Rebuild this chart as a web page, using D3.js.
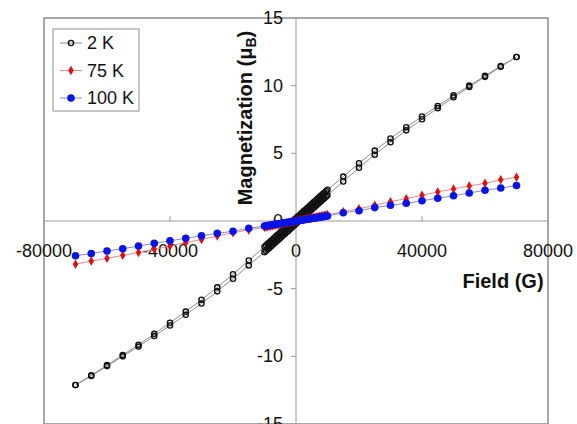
<!DOCTYPE html>
<html><head><meta charset="utf-8">
<script src="https://cdn.jsdelivr.net/npm/d3@7/dist/d3.min.js"></script>
<style>body{margin:0;background:#fff}svg{display:block}</style>
</head><body>
<script>
// Field values (G), shared by all series
const fields = [-70000,-65000,-60000,-55000,-50000,-45000,-40000,-35000,-30000,-25000,-20000,-15000,
  -10000,-9500,-9000,-8500,-8000,-7500,-7000,-6500,-6000,-5500,-5000,-4500,-4000,-3500,-3000,-2500,-2000,-1500,-1000,-500,
  0,500,1000,1500,2000,2500,3000,3500,4000,4500,5000,5500,6000,6500,7000,7500,8000,8500,9000,9500,10000,
  15000,20000,25000,30000,35000,40000,45000,50000,55000,60000,65000,70000];
// 2 K, increasing-field branch
const m2Kup = [-12.12,-11.45,-10.72,-10.0,-9.28,-8.5,-7.72,-6.93,-6.1,-5.2,-4.27,-3.28,
  -2.3,-2.2,-2.09,-1.99,-1.88,-1.78,-1.67,-1.57,-1.46,-1.36,-1.25,-1.15,-1.04,-0.94,-0.83,-0.73,-0.62,-0.52,-0.41,-0.31,
  -0.2,-0.1,0.01,0.12,0.22,0.33,0.43,0.54,0.64,0.75,0.85,0.96,1.06,1.17,1.27,1.38,1.48,1.59,1.69,1.8,1.9,
  2.92,3.93,4.9,5.82,6.7,7.52,8.34,9.14,9.9,10.65,11.4,12.12];
// 2 K, decreasing-field branch
const m2Kdown = [-12.12,-11.4,-10.65,-9.9,-9.14,-8.34,-7.52,-6.7,-5.82,-4.9,-3.93,-2.92,
  -1.9,-1.8,-1.69,-1.59,-1.48,-1.38,-1.27,-1.17,-1.06,-0.96,-0.85,-0.75,-0.64,-0.54,-0.43,-0.33,-0.22,-0.12,-0.01,0.1,
  0.2,0.31,0.41,0.52,0.62,0.73,0.83,0.94,1.04,1.15,1.25,1.36,1.46,1.57,1.67,1.78,1.88,1.99,2.09,2.2,2.3,
  3.28,4.27,5.2,6.1,6.93,7.72,8.5,9.28,10.0,10.72,11.45,12.12];
// 75 K
const m75K = [-3.19,-2.96,-2.76,-2.54,-2.32,-2.09,-1.85,-1.6,-1.36,-1.11,-0.87,-0.66,
  -0.46,-0.44,-0.41,-0.39,-0.37,-0.35,-0.32,-0.3,-0.28,-0.25,-0.23,-0.21,-0.18,-0.16,-0.14,-0.12,-0.09,-0.07,-0.05,-0.02,
  0,0.02,0.05,0.07,0.09,0.12,0.14,0.16,0.18,0.21,0.23,0.25,0.28,0.3,0.32,0.35,0.37,0.39,0.41,0.44,0.46,
  0.69,0.91,1.16,1.43,1.65,1.9,2.15,2.37,2.59,2.79,3.04,3.24];
// 100 K
const m100K = [-2.57,-2.4,-2.22,-2.05,-1.85,-1.65,-1.46,-1.28,-1.09,-0.91,-0.76,-0.54,
  -0.37,-0.35,-0.33,-0.31,-0.3,-0.28,-0.26,-0.24,-0.22,-0.2,-0.19,-0.17,-0.15,-0.13,-0.11,-0.09,-0.07,-0.06,-0.04,-0.02,
  0,0.02,0.04,0.06,0.07,0.09,0.11,0.13,0.15,0.17,0.19,0.2,0.22,0.24,0.26,0.28,0.3,0.31,0.33,0.35,0.37,
  0.61,0.76,0.99,1.16,1.31,1.5,1.68,1.87,2.07,2.27,2.44,2.62];

const seriesNames = ["2 K","75 K","100 K"];
const xTicks = [-80000,-40000,0,40000,80000];
const yTicks = [-15,-10,-5,0,5,10,15];

const W = 577, H = 424;
const svg = d3.select("body").append("svg").attr("width",W).attr("height",H);
const x = d3.scaleLinear().domain([-80000,80000]).range([44,548]);
const y = d3.scaleLinear().domain([-15,15]).range([424,18]);
const FONT = "Liberation Sans, Arial, sans-serif";

// plot border
svg.append("rect").attr("x",44).attr("y",18).attr("width",504).attr("height",406)
  .attr("fill","#fff").attr("stroke","#8a8a8a").attr("stroke-width",1.5);

// x axis at y=0
const gx = svg.append("g").attr("transform",`translate(0,${y(0)})`);
gx.append("line").attr("x1",44).attr("x2",548).attr("stroke","#9a9a9a").attr("stroke-width",1);
gx.selectAll("line.tk").data(xTicks.slice(1,4)).join("line").attr("class","tk")
  .attr("x1",d=>x(d)).attr("x2",d=>x(d)).attr("y1",-5).attr("y2",0).attr("stroke","#9a9a9a");
gx.selectAll("text").data(xTicks).join("text")
  .attr("x",d=>x(d)).attr("y",36).attr("text-anchor","middle")
  .attr("font-family",FONT).attr("font-size",18).attr("fill","#111").text(d=>d);

// y axis at x=0
const gy = svg.append("g").attr("transform",`translate(${x(0)},0)`);
gy.append("line").attr("y1",18).attr("y2",424).attr("stroke","#9a9a9a").attr("stroke-width",1);
gy.selectAll("line.tk").data(yTicks.slice(1,6)).join("line").attr("class","tk")
  .attr("x1",-5).attr("x2",0).attr("y1",d=>y(d)).attr("y2",d=>y(d)).attr("stroke","#9a9a9a");
gy.selectAll("text").data(yTicks).join("text")
  .attr("x",-13).attr("y",d=>Math.min(y(d)+6,430)).attr("text-anchor","end")
  .attr("font-family",FONT).attr("font-size",18).attr("fill","#111").text(d=>d);

// axis titles
const yt = svg.append("text").attr("transform","translate(252,118) rotate(-90)")
  .attr("text-anchor","middle").attr("font-family",FONT).attr("font-weight","bold")
  .attr("font-size",20).attr("fill","#111");
yt.append("tspan").text("Magnetization (μ");
yt.append("tspan").attr("font-size",14).attr("dy",4).text("B");
yt.append("tspan").attr("dy",-4).text(")");
svg.append("text").attr("x",503).attr("y",288).attr("text-anchor","middle")
  .attr("font-family",FONT).attr("font-weight","bold").attr("font-size",20).attr("fill","#111")
  .text("Field (G)");

const line = d3.line().x(d=>x(d[0])).y(d=>y(d[1]));
function pts(vals){ return fields.map((f,i)=>[f,vals[i]]); }

// 2 K loop
const up = pts(m2Kup), down = pts(m2Kdown).slice().reverse();
[up, down].forEach(p=>{
  svg.append("path").attr("d",line(p)).attr("fill","none").attr("stroke","#8c8c8c").attr("stroke-width",1);
});
svg.append("g").selectAll("circle").data(up.concat(down)).join("circle")
  .attr("cx",d=>x(d[0])).attr("cy",d=>y(d[1])).attr("r",2.6)
  .attr("fill","none").attr("stroke","#111").attr("stroke-width",1.4);

// 75 K
const p75 = pts(m75K);
svg.append("path").attr("d",line(p75)).attr("fill","none").attr("stroke","#ee8888").attr("stroke-width",1);
svg.append("g").selectAll("path").data(p75).join("path")
  .attr("transform",d=>`translate(${x(d[0])},${y(d[1])})`)
  .attr("d",d3.symbol(d3.symbolDiamond,26)).attr("fill","#e01010");

// 100 K
const p100 = pts(m100K);
svg.append("path").attr("d",line(p100)).attr("fill","none").attr("stroke","#8888cc").attr("stroke-width",1);
svg.append("g").selectAll("circle").data(p100).join("circle")
  .attr("cx",d=>x(d[0])).attr("cy",d=>y(d[1])).attr("r",3.8).attr("fill","#0a14e6");

// legend
const lg = svg.append("g");
lg.append("rect").attr("x",53).attr("y",29).attr("width",86).attr("height",82)
  .attr("fill","#fff").attr("stroke","#a0a0a0").attr("stroke-width",1.2);
const lineCols = ["#8c8c8c","#ee8888","#8888cc"];
seriesNames.forEach((n,i)=>{
  const cy = 43 + i*27.5;
  lg.append("line").attr("x1",60).attr("x2",82).attr("y1",cy).attr("y2",cy).attr("stroke",lineCols[i]);
  if(i===0) lg.append("circle").attr("cx",71).attr("cy",cy).attr("r",2.6).attr("fill","none").attr("stroke","#111").attr("stroke-width",1.4);
  if(i===1) lg.append("path").attr("transform",`translate(71,${cy})`).attr("d",d3.symbol(d3.symbolDiamond,26)).attr("fill","#e01010");
  if(i===2) lg.append("circle").attr("cx",71).attr("cy",cy).attr("r",3.8).attr("fill","#0a14e6");
  lg.append("text").attr("x",87).attr("y",cy+6).attr("font-family",FONT).attr("font-size",18)
    .attr("fill","#111").text(n);
});
</script>
</body></html>
